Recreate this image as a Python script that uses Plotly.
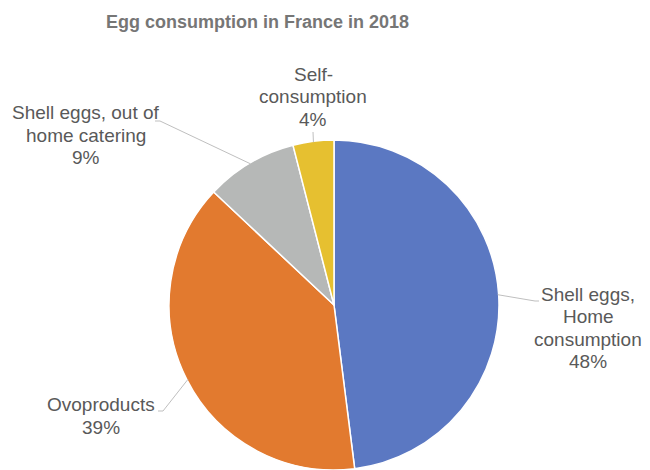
import math
import plotly.graph_objects as go

# ---- data ----
categories = ["Shell eggs, Home consumption", "Ovoproducts",
              "Shell eggs, out of home catering", "Self-consumption"]
display_lines = [["Shell eggs,", "Home", "consumption"],
                 ["Ovoproducts"],
                 ["Shell eggs, out of", "home catering"],
                 ["Self-", "consumption"]]
values = [48, 39, 9, 4]
colors = ["#5B78C2", "#E27A2F", "#B6B8B7", "#E6C030"]

# ---- layout constants (pixels in the 650x470 window) ----
OFF = 8                 # browser body margin
W, H = 650 - OFF, 470 - OFF
CX, CY, R = 334, 305, 164
LINE_H = 22.5
label_pos = [(588, 328), (101, 416), (86, 135), (313, 97)]
leader_tail = [[(535, 301), (539, 301)],
               [(163, 411), (158, 411)],
               [(160, 121), (155, 121)],
               [(313, 132)]]
FONT = "Liberation Sans, Arial"


def px(x):
    return (x - OFF) / W


def py(y):
    return min(1, max(0, 1 - (y - OFF) / H))


half = 470 - CY
fig = go.Figure(go.Pie(
    labels=categories, values=values, sort=False, direction="clockwise",
    rotation=0, marker=dict(colors=colors, line=dict(color="white", width=1.5)),
    textinfo="none", hoverinfo="label+percent", showlegend=False,
    domain=dict(x=[px(CX - half), px(CX + half)],
                y=[py(CY + half), py(CY - half)]),
))

total = sum(values)
annotations = []
shapes = []
cum = 0
for i, v in enumerate(values):
    mid = (cum + v / 2) / total * 2 * math.pi
    cum += v
    sx = CX + R * math.sin(mid)
    sy = CY - R * math.cos(mid)
    pts = [(sx, sy)] + leader_tail[i]
    path = "M " + " L ".join(f"{px(x)},{py(y)}" for x, y in pts)
    shapes.append(dict(type="path", xref="paper", yref="paper", path=path,
                       line=dict(color="#BFBFBF", width=1)))
    pct = round(v / total * 100)
    lines = display_lines[i] + [f"{pct}%"]
    lx, ly = label_pos[i]
    top = ly - (len(lines) - 1) * LINE_H / 2
    for k, t in enumerate(lines):
        annotations.append(dict(
            text=t, x=px(lx), y=py(top + k * LINE_H),
            xref="paper", yref="paper", xanchor="center", yanchor="middle",
            showarrow=False,
            font=dict(family=FONT, size=19, color="#595959")))

annotations.append(dict(
    text="<b>Egg consumption in France in 2018</b>", x=px(257), y=py(22),
    xref="paper", yref="paper", xanchor="center", yanchor="middle",
    showarrow=False,
    font=dict(family=FONT, size=18, color="#767676")))

fig.update_layout(
    width=W, height=H, margin=dict(l=0, r=0, t=0, b=0),
    paper_bgcolor="white", plot_bgcolor="white",
    annotations=annotations, shapes=shapes,
)

fig.write_html("out.html")
